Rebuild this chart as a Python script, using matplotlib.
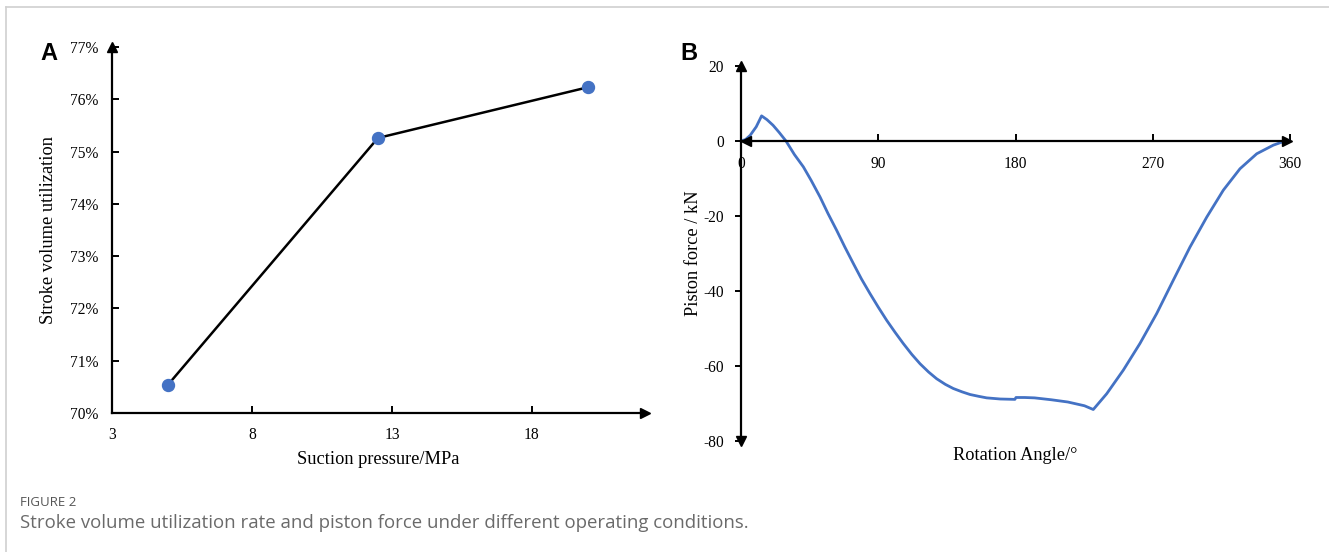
import matplotlib
matplotlib.use("Agg")
import matplotlib.pyplot as plt
from matplotlib.lines import Line2D
from matplotlib.ticker import FuncFormatter

plt.rcParams["axes.unicode_minus"] = False

# ---------------- data ----------------
pressure = [5.0, 12.5, 20.0]                 # MPa
utilization = [70.54, 75.26, 76.23]          # %
a_xticks = [3, 8, 13, 18]
a_yticks = [70, 71, 72, 73, 74, 75, 76, 77]

angle = [0, 3, 6, 10, 13.5, 17, 21, 25, 29.5, 35, 40.9, 46, 51.8, 57, 62.7,
         68, 73.7, 79, 84.6, 90, 95.5, 101, 106.4, 112, 117.4, 123, 128.3,
         134, 139.2, 145, 150.2, 156, 161.1, 170, 179.6, 180.3, 186, 192.5,
         203.4, 214.3, 225.2, 231.0, 239.8, 250.7, 261.6, 272.6, 283.5, 294.4,
         305.4, 316.3, 327.2, 338.2, 349.1, 354, 357.9, 360]
force = [0, 0.4, 1.5, 3.8, 6.7, 5.7, 4.2, 2.3, 0.0, -3.6, -6.9, -10.5, -14.9,
         -19.3, -23.8, -28.2, -32.7, -36.8, -40.7, -44.3, -47.8, -51.0, -54.0,
         -56.9, -59.4, -61.6, -63.4, -64.9, -66.0, -66.9, -67.6, -68.1, -68.5,
         -68.8, -68.9, -68.4, -68.4, -68.5, -69.0, -69.6, -70.6, -71.6, -67.4,
         -61.1, -54.0, -46.0, -37.1, -28.3, -20.3, -13.1, -7.4, -3.4, -1.1,
         -0.4, 0.0, 0.2]
b_xticks = [0, 90, 180, 270, 360]
b_yticks = [-80, -60, -40, -20, 0, 20]

# ---------------- style ----------------
W, H = 1329, 552
fig = plt.figure(figsize=(W / 100, H / 100), dpi=100)
serif = ["Liberation Serif", "DejaVu Serif"]
tick_fs = 11.2
lab_fs = 13.2
blue = "#4472C4"

# figure frame (light gray top & left edges)
fig.add_artist(Line2D([6 / W, 6 / W], [0, 1 - 7 / H], color="#d0d0d0", lw=1.2,
                      transform=fig.transFigure))
fig.add_artist(Line2D([6 / W, 1], [1 - 7 / H, 1 - 7 / H], color="#d0d0d0", lw=1.2,
                      transform=fig.transFigure))

# ---------------- panel A ----------------
axA = fig.add_axes([112 / W, (H - 413) / H, (645 - 112) / W, 366 / H])
axA.plot(pressure, utilization, color="black", lw=1.8, zorder=2)
axA.plot(pressure, utilization, "o", color=blue, ms=8.6, zorder=3)
axA.set_xlim(3, 22.04)
axA.set_ylim(70, 77)
axA.set_xticks(a_xticks)
axA.set_yticks(a_yticks)
axA.yaxis.set_major_formatter(FuncFormatter(lambda v, p: f"{v:.0f}%"))
for s in ["top", "right"]:
    axA.spines[s].set_visible(False)
for s in ["left", "bottom"]:
    axA.spines[s].set_linewidth(1.6)
axA.tick_params(direction="in", length=5, width=1.4, labelsize=tick_fs, pad=10)
for lbl in axA.get_xticklabels() + axA.get_yticklabels():
    lbl.set_family(serif)
axA.plot([0], [1], marker="^", color="black", ms=7, transform=axA.transAxes,
         clip_on=False)
axA.plot([1], [0], marker=">", color="black", ms=7, transform=axA.transAxes,
         clip_on=False)
axA.set_xlabel("Suction pressure/MPa", family=serif, fontsize=lab_fs, labelpad=6)
axA.set_ylabel("Stroke volume utilization", family=serif, fontsize=lab_fs, labelpad=9)
axA.patch.set_alpha(0)

# ---------------- panel B ----------------
axB = fig.add_axes([741 / W, (H - 441) / H, (1290 - 741) / W, 375 / H])
axB.plot(angle, force, color=blue, lw=2.0)
axB.set_xlim(0, 360)
axB.set_ylim(-80, 20)
axB.set_xticks(b_xticks)
axB.set_yticks(b_yticks)
for s in ["top", "right"]:
    axB.spines[s].set_visible(False)
axB.spines["bottom"].set_position(("data", 0))
for s in ["left", "bottom"]:
    axB.spines[s].set_linewidth(1.6)
axB.tick_params(axis="x", direction="in", length=5, width=1.4, labelsize=tick_fs, pad=11)
axB.tick_params(axis="y", direction="out", length=4, width=1.4, labelsize=tick_fs, pad=8)
for lbl in axB.get_xticklabels() + axB.get_yticklabels():
    lbl.set_family(serif)
axB.plot([0], [1], marker="^", color="black", ms=7, transform=axB.transAxes, clip_on=False)
axB.plot([0], [0], marker="v", color="black", ms=7, transform=axB.transAxes, clip_on=False)
axB.plot([358], [0], marker=">", color="black", ms=7, clip_on=False)
axB.plot([3], [0], marker="<", color="black", ms=7, clip_on=False)
axB.set_ylabel("Piston force / kN", family=serif, fontsize=lab_fs, labelpad=1)
axB.text(0.5, -0.015, "Rotation Angle/°", transform=axB.transAxes, ha="center",
         va="top", family=serif, fontsize=lab_fs)
axB.patch.set_alpha(0)

# panel letters
fig.text(40 / W, 1 - 53 / H, "A", family=["Liberation Sans"], weight="bold",
         fontsize=17, va="center", ha="left")
fig.text(680 / W, 1 - 53 / H, "B", family=["Liberation Sans"], weight="bold",
         fontsize=17, va="center", ha="left")

# caption
fig.text(20 / W, 1 - 502 / H, "FIGURE 2", family=["Open Sans"], fontsize=9.5,
         color="#555555", va="center", ha="left")
fig.text(20 / W, 1 - 523 / H,
         "Stroke volume utilization rate and piston force under different operating conditions.",
         family=["Open Sans"], fontsize=13.4, color="#6a6a6a", va="center", ha="left")

fig.savefig("out.png", dpi=100)
